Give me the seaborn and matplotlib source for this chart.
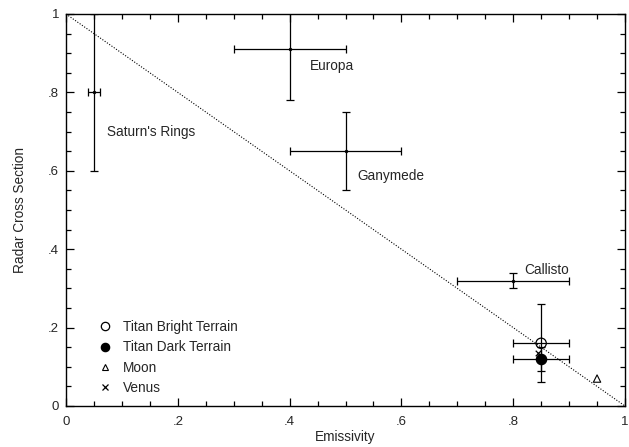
import matplotlib
matplotlib.use("Agg")
import matplotlib.pyplot as plt
from matplotlib.lines import Line2D
from matplotlib.ticker import MultipleLocator, FuncFormatter
import seaborn as sns
import pandas as pd

sns.set_theme(style="ticks")
plt.rcParams["font.family"] = ["Liberation Sans", "DejaVu Sans"]

FS = 9.8

# Icy bodies with error bars: emissivity vs. radar cross section
bodies = ["Saturn's Rings", "Europa", "Ganymede", "Callisto"]
body_emis = [0.05, 0.40, 0.50, 0.80]
body_emis_err = [0.01, 0.10, 0.10, 0.10]
body_rcs = [0.80, 0.91, 0.65, 0.32]
body_rcs_lo = [0.20, 0.13, 0.10, 0.02]
body_rcs_hi = [0.20, 0.13, 0.10, 0.02]
label_pos = [(0.073, 0.699), (0.436, 0.867), (0.521, 0.587), (0.82, 0.347)]

# Titan terrains
titan = ["Titan Bright Terrain", "Titan Dark Terrain"]
titan_emis = [0.85, 0.85]
titan_emis_err = [0.05, 0.05]
titan_rcs = [0.16, 0.12]
titan_rcs_err = [0.10, 0.03]

# Reference bodies
ref = ["Moon", "Venus"]
ref_emis = [0.95, 0.845]
ref_rcs = [0.07, 0.135]

fig = plt.figure(figsize=(6.29, 4.47), dpi=100)
ax = fig.add_axes([66 / 629, 1 - 406 / 447, 559 / 629, 392 / 447])

# Line of emissivity + reflectivity = 1
ax.plot([0, 1], [1, 0], linestyle=(0, (1, 1.5)), color="black", lw=0.8)

ebkw = dict(fmt="none", ecolor="black", elinewidth=0.9, capsize=3, capthick=0.9)
ax.errorbar(body_emis, body_rcs, xerr=body_emis_err,
            yerr=[body_rcs_lo, body_rcs_hi], **ebkw)
sns.scatterplot(x=body_emis, y=body_rcs, ax=ax, color="black", marker="o",
                s=6, linewidth=0, legend=False)
for name, (tx, ty) in zip(bodies, label_pos):
    ax.text(tx, ty, name, fontsize=FS, va="center", ha="left")

ax.errorbar(titan_emis, titan_rcs, xerr=titan_emis_err, yerr=titan_rcs_err,
            **ebkw)

df = pd.DataFrame({
    "emis": titan_emis + ref_emis,
    "rcs": titan_rcs + ref_rcs,
    "name": titan + ref,
})
styles = {
    "Titan Bright Terrain": dict(marker="o", facecolor="none", s=55, lw=0.9),
    "Titan Dark Terrain": dict(marker="o", facecolor="black", s=55, lw=0.9),
    "Moon": dict(marker="^", facecolor="none", s=28, lw=0.8),
    "Venus": dict(marker="x", facecolor="black", s=16, lw=0.9),
}
handles = []
for name, st in styles.items():
    sub = df[df["name"] == name]
    sns.scatterplot(data=sub, x="emis", y="rcs", ax=ax, marker=st["marker"],
                    facecolor=st["facecolor"], edgecolor="black",
                    color="black", s=st["s"], linewidth=st["lw"], zorder=4,
                    legend=False)
    handles.append(Line2D([], [], linestyle="none", marker=st["marker"],
                          markersize=6 if st["marker"] == "o" else 5,
                          markerfacecolor=st["facecolor"],
                          markeredgecolor="black", markeredgewidth=st["lw"],
                          label=name))

ax.legend(handles=handles, loc="lower left", bbox_to_anchor=(0.057, 0.029),
          frameon=False, fontsize=FS, handlelength=1.0, handletextpad=0.82,
          labelspacing=0.45, borderpad=0, borderaxespad=0)

ax.set_xlim(0, 1)
ax.set_ylim(0, 1)
ax.xaxis.set_major_locator(MultipleLocator(0.2))
ax.yaxis.set_major_locator(MultipleLocator(0.2))
ax.xaxis.set_minor_locator(MultipleLocator(0.05))
ax.yaxis.set_minor_locator(MultipleLocator(0.05))


def fmt(v, _):
    if abs(v) < 1e-9:
        return "0"
    if abs(v - 1) < 1e-9:
        return "1"
    return ("%.1f" % v).lstrip("0")


ax.xaxis.set_major_formatter(FuncFormatter(fmt))
ax.yaxis.set_major_formatter(FuncFormatter(fmt))
ax.tick_params(which="both", direction="in", top=True, right=True,
               color="black", labelsize=9.5, width=0.9)
ax.tick_params(axis="x", which="major", length=6, pad=7)
ax.tick_params(axis="y", which="major", length=6, pad=5)
ax.tick_params(which="minor", length=3.5)
for sp in ax.spines.values():
    sp.set_visible(True)
    sp.set_color("black")
    sp.set_linewidth(1.0)

ax.set_xlabel("Emissivity", fontsize=FS, labelpad=2)
ax.set_ylabel("Radar Cross Section", fontsize=FS, labelpad=15)

fig.savefig("out.png", dpi=100)
